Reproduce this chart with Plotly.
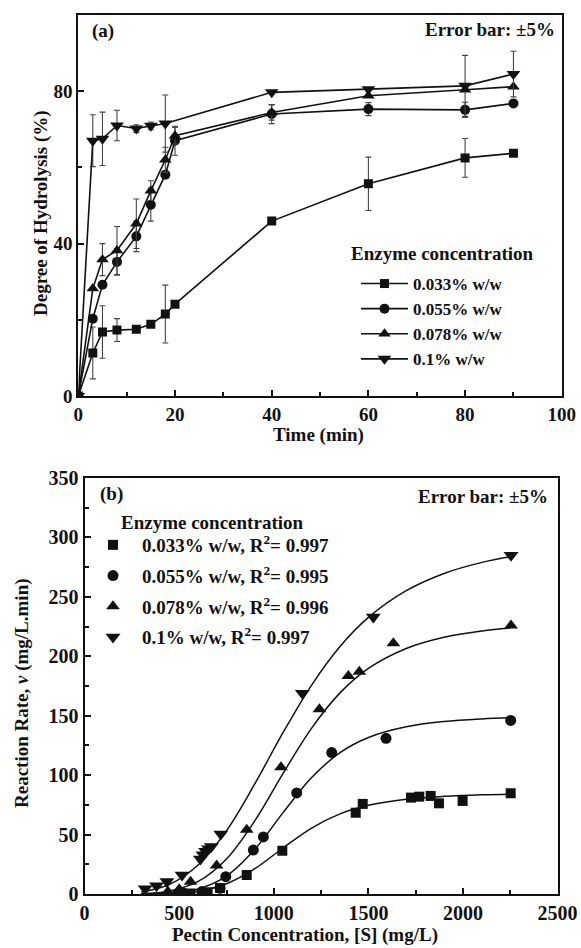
import plotly.graph_objects as go

# ---------------- Panel (a): Degree of hydrolysis vs time ----------------
time_a = [0, 3, 5, 8, 12, 15, 18, 20, 40, 60, 80, 90]
time_a10 = [0, 3, 5, 8, 12, 15, 18, 40, 60, 80, 90]
dh_033 = [0, 11.3, 16.8, 17.3, 17.5, 18.8, 21.5, 24.1, 45.9, 55.7, 62.5, 63.7]
err_033 = [0, 6.8, 6.9, 3.0, 0, 0, 7.6, 0, 0, 7.0, 5.1, 0]
dh_055 = [0, 20.3, 29.2, 35.2, 41.9, 50.2, 58.1, 67.0, 74.0, 75.3, 75.1, 76.8]
err_055 = [0, 0, 0, 3.5, 4.0, 4.3, 0, 3.8, 2.5, 1.7, 2.0, 0]
dh_078 = [0, 28.2, 35.8, 38.2, 45.2, 53.9, 62.0, 68.3, 74.4, 78.8, 80.4, 81.2]
err_078 = [0, 0, 4.2, 6.3, 6.5, 2.6, 3.3, 2.2, 2.0, 0, 0, 0]
dh_10 = [0, 67.0, 67.5, 71.0, 70.2, 70.9, 71.5, 79.7, 80.5, 81.4, 84.5]
err_10 = [0, 6.8, 7.0, 4.0, 1.0, 1.0, 7.5, 0, 0, 8.0, 6.0]

series_names_a = ["0.033% w/w", "0.055% w/w", "0.078% w/w", "0.1% w/w"]

# ---------------- Panel (b): Reaction rate vs pectin concentration ----------------
s_033 = [560, 650, 716, 857, 1045, 1433, 1470, 1725, 1769, 1829, 1873, 1998, 2252]
v_033 = [0.5, 1.5, 5.0, 16.0, 36.4, 68.4, 75.8, 81.1, 81.9, 82.5, 76.3, 78.3, 84.8]
s_055 = [520, 620, 716, 746, 892, 945, 1121, 1306, 1593, 2252]
v_055 = [1.0, 2.0, 4.8, 14.6, 37.0, 48.0, 85.0, 119.0, 131.0, 146.0]
s_078 = [440, 500, 560, 698, 857, 1038, 1241, 1394, 1452, 1632, 2254]
v_078 = [2.0, 4.0, 10.4, 24.0, 54.0, 106.6, 155.5, 183.5, 187.0, 211.0, 226.0]
s_10 = [320, 380, 435, 515, 612, 626, 640, 655, 670, 720, 1151, 1526, 2254]
v_10 = [4.5, 7.0, 10.5, 16.0, 29.5, 33.0, 36.0, 38.0, 40.0, 50.5, 169.0, 233.0, 285.0]

# fitted curves
s_fit = [300, 450, 600, 750, 900, 1050, 1200, 1350, 1500, 1700, 1900, 2100, 2250]
fit_033 = [0.04, 0.44, 2.4, 8.6, 21.3, 38.9, 55.5, 67.4, 74.6, 79.7, 82.2, 83.5, 84.0]
fit_055 = [0.07, 0.78, 4.3, 15.1, 37.6, 68.7, 98.0, 118.9, 131.7, 140.7, 145.1, 147.3, 148.2]
fit_078 = [0.35, 2.6, 10.6, 29.5, 61.7, 101.7, 139.6, 169.2, 189.8, 206.6, 216.0, 221.3, 223.8]
fit_10 = [1.65, 8.2, 24.4, 53.3, 92.8, 136.1, 175.8, 208.2, 232.7, 255.2, 269.7, 279.0, 283.8]

series_names_b = ["0.033% w/w, R<sup>2</sup>= 0.997", "0.055% w/w, R<sup>2</sup>= 0.995",
                  "0.078% w/w, R<sup>2</sup>= 0.996", "0.1% w/w, R<sup>2</sup>= 0.997"]

symbols = ["square", "circle", "triangle-up", "triangle-down"]
sizes_a = [9, 10, 11, 12]
sizes_b = [10, 11, 12, 13]

FONT = "Liberation Serif"
BLACK = "#111111"

fig = go.Figure()

a_sets = [(time_a, dh_033, err_033), (time_a, dh_055, err_055),
          (time_a, dh_078, err_078), (time_a10, dh_10, err_10)]
for i, (tx, ty, te) in enumerate(a_sets):
    fig.add_trace(go.Scatter(
        x=tx, y=ty, mode="lines+markers", name=series_names_a[i],
        line=dict(color=BLACK, width=1.6),
        marker=dict(symbol=symbols[i], size=sizes_a[i], color=BLACK),
        error_y=dict(type="data", array=te, visible=True, color="#444444",
                     thickness=1.1, width=3),
        xaxis="x", yaxis="y", legend="legend",
    ))

b_sets = [(s_033, v_033, fit_033), (s_055, v_055, fit_055),
          (s_078, v_078, fit_078), (s_10, v_10, fit_10)]
for i, (sx, sy, fy) in enumerate(b_sets):
    fig.add_trace(go.Scatter(
        x=s_fit, y=fy, mode="lines", line=dict(color=BLACK, width=1.5, shape="spline"),
        showlegend=False, xaxis="x2", yaxis="y2", hoverinfo="skip",
    ))
for i, (sx, sy, fy) in enumerate(b_sets):
    fig.add_trace(go.Scatter(
        x=sx, y=sy, mode="markers", name=series_names_b[i],
        marker=dict(symbol=symbols[i], size=sizes_b[i], color=BLACK),
        xaxis="x2", yaxis="y2", legend="legend2", legendgroup="b%d" % i,
    ))

W, H = 581, 948


def px(x):
    return x / W


def py(y):
    return 1 - y / H


tickfont_a = dict(family=FONT, size=19, color=BLACK, weight="bold")
tickfont_b = dict(family=FONT, size=20, color=BLACK, weight="bold")
axis_common = dict(showline=True, linecolor=BLACK, linewidth=2, mirror=True,
                   ticks="inside", ticklen=6, tickwidth=1.5, tickcolor=BLACK,
                   showgrid=False, zeroline=False, automargin=False)

fig.update_layout(
    width=W, height=H,
    margin=dict(l=0, r=0, t=0, b=0),
    paper_bgcolor="white", plot_bgcolor="white",
    font=dict(family=FONT, size=19, color=BLACK),
    xaxis=dict(domain=[px(78.3), px(561.8)], range=[0, 100], dtick=20,
               tickfont=tickfont_a, anchor="y",
               minor=dict(dtick=10, ticks="inside", ticklen=4, tickcolor=BLACK, tickwidth=1.5),
               **axis_common),
    yaxis=dict(domain=[py(396), py(15)], range=[0, 100], tickvals=[0, 40, 80],
               tickfont=tickfont_a, anchor="x",
               minor=dict(tickvals=[20, 60], ticks="inside", ticklen=4, tickcolor=BLACK, tickwidth=1.5),
               **axis_common),
    xaxis2=dict(domain=[px(84.6), px(557.6)], range=[0, 2500], dtick=500,
                tickfont=tickfont_b, anchor="y2",
                minor=dict(dtick=250, ticks="inside", ticklen=4, tickcolor=BLACK, tickwidth=1.5),
                **axis_common),
    yaxis2=dict(domain=[py(894), py(478)], range=[0, 350], dtick=50,
                tickfont=tickfont_b, anchor="x2",
                minor=dict(dtick=25, ticks="inside", ticklen=4, tickcolor=BLACK, tickwidth=1.5),
                **axis_common),
    legend=dict(x=px(356), y=py(266), xanchor="left", yanchor="top",
                bgcolor="rgba(0,0,0,0)", itemwidth=47,
                font=dict(family=FONT, size=17, color=BLACK, weight="bold")),
    legend2=dict(x=px(84), y=py(526), xanchor="left", yanchor="top",
                 bgcolor="rgba(0,0,0,0)", itemwidth=48, tracegroupgap=3,
                 font=dict(family=FONT, size=19, color=BLACK, weight="bold")),
    showlegend=True,
)

bold = dict(family=FONT, size=19, color=BLACK)
annots = [
    dict(text="<b>(a)</b>", x=px(90), y=py(31), xanchor="left", yanchor="middle"),
    dict(text="<b>Error bar: ±5%</b>", x=px(557), y=py(30), xanchor="right", yanchor="middle"),
    dict(text="<b>(b)</b>", x=px(98), y=py(494), xanchor="left", yanchor="middle"),
    dict(text="<b>Error bar: ±5%</b>", x=px(550), y=py(496), xanchor="right", yanchor="middle"),
    dict(text="<b>Enzyme concentration</b>", x=px(349), y=py(253), xanchor="left", yanchor="middle"),
    dict(text="<b>Enzyme concentration</b>", x=px(119), y=py(522), xanchor="left", yanchor="middle"),
    dict(text="<b>Time (min)</b>", x=px(318), y=py(435), xanchor="center", yanchor="middle"),
    dict(text="<b>Pectin Concentration, [S] (mg/L)</b>", x=px(305), y=py(935),
         xanchor="center", yanchor="middle"),
    dict(text="<b>Degree of Hydrolysis (%)</b>", x=px(41), y=py(213), xanchor="center",
         yanchor="middle", textangle=-90),
    dict(text="<b>Reaction Rate, <i>v</i> (mg/L.min)</b>", x=px(22), y=py(693), xanchor="center",
         yanchor="middle", textangle=-90),
]
for a in annots:
    a.update(xref="paper", yref="paper", showarrow=False, font=bold)
fig.update_layout(annotations=annots)

fig.write_html("out.html", config={"displayModeBar": False},
               post_script="document.body.style.margin='0';document.body.style.overflow='hidden';")
